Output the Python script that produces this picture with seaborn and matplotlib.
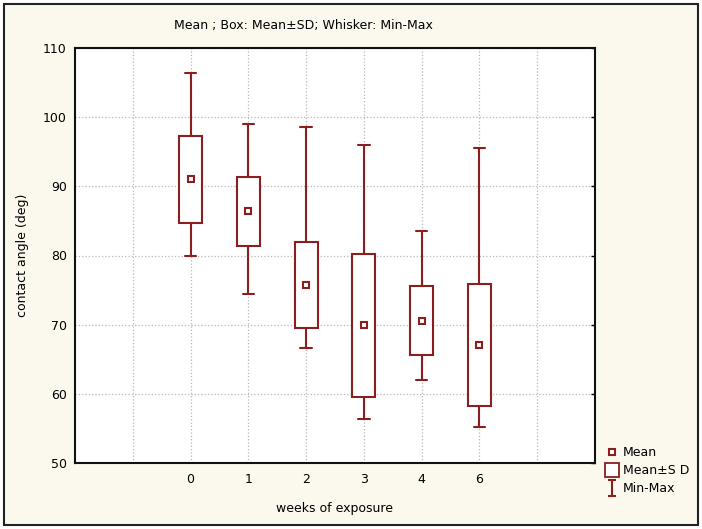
import pandas as pd
import seaborn as sns
import matplotlib.pyplot as plt
from matplotlib.lines import Line2D, TICKLEFT
from matplotlib.path import Path
from matplotlib.patches import Rectangle

# values
weeks = ["0", "1", "2", "3", "4", "6"]
means = [91.0, 86.4, 75.7, 69.9, 70.6, 67.1]
sds = [6.25, 5.0, 6.25, 10.35, 5.0, 8.8]
mins = [80.0, 74.4, 66.6, 56.4, 62.0, 55.2]
maxs = [106.4, 99.0, 98.6, 96.0, 83.6, 95.5]

dark_red = "#8b1e1e"
cream = "#fbf8ee"

# five points per group: min, mean-SD, mean, mean+SD, max
# -> quartiles give the Mean±SD box, whis=(0, 100) gives Min-Max whiskers
rows = []
for w, m, s, lo, hi in zip(weeks, means, sds, mins, maxs):
    for v in [lo, m - s, m, m + s, hi]:
        rows.append({"week": w, "angle": v})
df = pd.DataFrame(rows)
mean_df = pd.DataFrame({"week": weeks, "angle": means})

sns.set_style("white")
plt.rcParams["font.family"] = ["DejaVu Sans"]
plt.rcParams["text.color"] = "black"
plt.rcParams["axes.labelcolor"] = "black"
plt.rcParams["xtick.color"] = "black"
plt.rcParams["ytick.color"] = "black"

fig = plt.figure(figsize=(7.02, 5.29), dpi=100, facecolor="white")
fig.patches.append(Rectangle((4 / 702, 4 / 529), 694 / 702, 521 / 529,
                             transform=fig.transFigure, facecolor=cream,
                             edgecolor="#222222", linewidth=1.5, zorder=-5))
ax = fig.add_axes([75 / 702, 66 / 529, 520 / 702, 415 / 529])
ax.set_facecolor("white")

sns.boxplot(data=df, x="week", y="angle", order=weeks, whis=(0, 100),
            width=0.4, color="white", linecolor=dark_red, linewidth=1.5,
            fliersize=0, medianprops=dict(linewidth=0), ax=ax, zorder=3)
sns.pointplot(data=mean_df, x="week", y="angle", order=weeks,
              linestyles="none", markers="s", errorbar=None, color=dark_red,
              markersize=4.5, markerfacecolor="white", markeredgewidth=1.5,
              ax=ax, zorder=4)

ax.set_xlim(-2, 7)
ax.set_ylim(50, 110)
ax.set_xticks(range(-1, 7))
ax.set_xticklabels([""] + weeks + [""])
ax.set_yticks(range(50, 111, 10))
ax.grid(True, color="#b8b8b8", linestyle=":", linewidth=0.9)
ax.set_axisbelow(True)
for sp in ax.spines.values():
    sp.set_color("#111111")
    sp.set_linewidth(1.5)
ax.tick_params(axis="x", direction="in", length=3, width=1, labelsize=9, pad=7)
ax.tick_params(axis="y", direction="out", length=3, width=1, labelsize=9, pad=3,
               right=True)
# right-hand ticks point into the plot
for t in ax.yaxis.get_major_ticks():
    t.tick2line.set_marker(TICKLEFT)

ax.set_xlabel("weeks of exposure", fontsize=9, labelpad=12)
ax.set_ylabel("contact angle (deg)", fontsize=9, labelpad=10)
ax.set_title("Mean ; Box: Mean\u00b1SD; Whisker: Min-Max", fontsize=9, pad=14,
             x=0.44, color="black")

# legend with an I-shaped min-max marker
ibeam = Path([(-0.5, 1), (0.5, 1), (0, 1), (0, -1), (-0.5, -1), (0.5, -1)],
             [Path.MOVETO, Path.LINETO, Path.MOVETO, Path.LINETO,
              Path.MOVETO, Path.LINETO])
handles = [
    Line2D([], [], linestyle="none", marker="s", markersize=4.5,
           markerfacecolor="white", markeredgecolor=dark_red, markeredgewidth=1.5),
    Line2D([], [], linestyle="none", marker="s", markersize=10,
           markerfacecolor="white", markeredgecolor=dark_red, markeredgewidth=1.3),
    Line2D([], [], linestyle="none", marker=ibeam, markersize=11,
           markerfacecolor="none", markeredgecolor=dark_red, markeredgewidth=1.5),
]
fig.legend(handles, ["Mean", "Mean\u00b1S D", "Min-Max"], loc="upper left",
           bbox_to_anchor=(599 / 702, (529 - 440) / 529), frameon=False,
           fontsize=9, handlelength=1.0, handletextpad=0.4, labelspacing=0.4,
           borderpad=0, labelcolor="black")

fig.savefig("out.png", dpi=100, facecolor=fig.get_facecolor())
